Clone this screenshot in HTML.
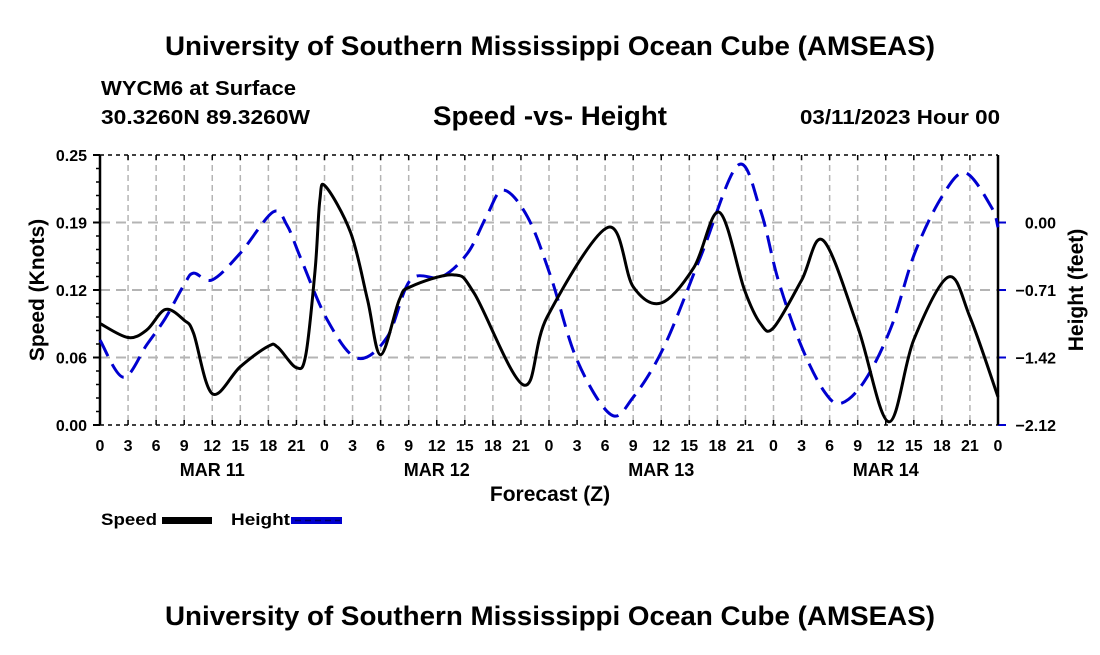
<!DOCTYPE html>
<html><head><meta charset="utf-8">
<style>
body{margin:0;background:#fff;}
svg text{font-family:"Liberation Sans",Arial,sans-serif;font-weight:bold;fill:#000;}
</style></head>
<body>
<svg id="chart" width="1100" height="650" viewBox="0 0 1100 650" xmlns="http://www.w3.org/2000/svg">
<rect width="1100" height="650" fill="#fff"/>
<text x="165" y="55" font-size="27" textLength="770" lengthAdjust="spacingAndGlyphs">University of Southern Mississippi Ocean Cube (AMSEAS)</text>
<text x="101" y="95" font-size="20" textLength="195" lengthAdjust="spacingAndGlyphs">WYCM6 at Surface</text>
<text x="101" y="124" font-size="20" textLength="209" lengthAdjust="spacingAndGlyphs">30.3260N  89.3260W</text>
<text x="433" y="125" font-size="27" textLength="234" lengthAdjust="spacingAndGlyphs">Speed -vs- Height</text>
<text x="800" y="124" font-size="20" textLength="200" lengthAdjust="spacingAndGlyphs">03/11/2023 Hour 00</text>
<g id="grid"></g>
<g id="axes"></g>
<g id="series"></g>
<text transform="translate(44,290) rotate(-90)" font-size="21" text-anchor="middle">Speed (Knots)</text>
<text transform="translate(1083,290) rotate(-90)" font-size="21" text-anchor="middle">Height (feet)</text>
<text x="550" y="501" font-size="21" text-anchor="middle">Forecast (Z)</text>
<g>
<text x="101" y="525" font-size="17" textLength="56" lengthAdjust="spacingAndGlyphs">Speed</text>
<rect x="162" y="517" width="50" height="7" fill="#000"/>
<text x="231" y="525" font-size="17" textLength="59" lengthAdjust="spacingAndGlyphs">Height</text>
<rect x="291" y="517" width="51" height="7" fill="#0000d0"/>
<line x1="295" y1="520.5" x2="340" y2="520.5" stroke="#000060" stroke-width="1.5" stroke-dasharray="6,4"/>
</g>
<text x="165" y="625" font-size="27" textLength="770" lengthAdjust="spacingAndGlyphs">University of Southern Mississippi Ocean Cube (AMSEAS)</text>
</svg>
<script>
const speedHours=[0,3,5,7,9,10,12,15,18,19,21,22,23,23.5,24.1,26.8,28.6,30,32,33.2,37.8,40,45.3,47.8,54.3,57,60,63.5,66.2,68.9,70.6,72,75,77.3,81,84.3,87,90.7,93,96];
const speedValues=[0.094,0.081,0.088,0.107,0.097,0.085,0.029,0.054,0.073,0.072,0.053,0.065,0.144,0.208,0.221,0.178,0.116,0.065,0.116,0.128,0.139,0.122,0.037,0.100,0.183,0.128,0.113,0.146,0.197,0.125,0.094,0.090,0.134,0.171,0.091,0.003,0.079,0.137,0.100,0.026];
const heightHours=[0,2.5,5,7,9,10,12,15,18.5,20,21.4,24.3,27.5,30.7,33.2,36.5,39.3,41.3,43.1,45.7,48.2,51,54.6,57,60.3,64.2,68.2,70.6,72.5,75,77.5,79.3,81.8,84.6,87.1,90,92.5,95.3,96];
const heightValues=[-1.23,-1.62,-1.28,-1.00,-0.65,-0.53,-0.60,-0.32,0.11,-0.03,-0.36,-1.02,-1.42,-1.20,-0.60,-0.57,-0.32,0.06,0.34,0.06,-0.57,-1.44,-2.01,-1.83,-1.30,-0.36,0.60,0.13,-0.60,-1.30,-1.78,-1.89,-1.65,-1.09,-0.32,0.27,0.52,0.16,-0.05];
const speedTicks=[0,0.0625,0.125,0.1875,0.25];
const speedTickLabels=["0.00","0.06","0.12","0.19","0.25"];
const heightTickLabels=["\u22122.12","\u22121.42","\u22120.71","0.00"];
const hourLabels=["0","3","6","9","12","15","18","21"];
const dayLabels=["MAR 11","MAR 12","MAR 13","MAR 14"];

const X0=100,X1=998,Y0=425,Y1=155,HMAX=96;
const HMIN=-2.12,HTOP=0.707;
const xs=h=>X0+h/HMAX*(X1-X0);
const ys=v=>Y0-v/0.25*(Y0-Y1);
const yh=v=>Y0-(v-HMIN)/(HTOP-HMIN)*(Y0-Y1);
const NS="http://www.w3.org/2000/svg";
function mk(tag,attrs,parent){const e=document.createElementNS(NS,tag);for(const k in attrs)e.setAttribute(k,attrs[k]);parent.appendChild(e);return e;}
const grid=document.getElementById('grid'),axes=document.getElementById('axes'),series=document.getElementById('series');

for(let h=0;h<=HMAX;h+=3){
  const x=xs(h);
  if(h>0&&h<HMAX){const l=mk('line',{x1:x,y1:Y1,x2:x,y2:Y0,stroke:'#b4b4b4','stroke-width':1.5,'stroke-dasharray':'6,4'},grid);
  
  }
  mk('line',{x1:x,y1:Y1,x2:x,y2:Y1+5,stroke:'#000','stroke-width':1.5},axes);
  mk('line',{x1:x,y1:Y0,x2:x,y2:Y0-5,stroke:'#000','stroke-width':1.5},axes);
  const t=mk('text',{x:x,y:451,'font-size':16,'text-anchor':'middle'},axes);
  t.textContent=hourLabels[(h/3)%8];
  
  
}
dayLabels.forEach((d,i)=>{const t=mk('text',{x:xs(i*24+12),y:476,'font-size':18,'text-anchor':'middle'},axes);t.textContent=d;
  
  });
speedTicks.forEach((v,i)=>{const y=ys(v);
  const l=mk('line',{x1:X0,y1:y,x2:X1,y2:y,stroke:(i==0||i==4)?'#000':'#b4b4b4','stroke-width':(i==0||i==4)?1.5:2,'stroke-dasharray':(i==0||i==4)?'4,4':'10,6'},grid);
  
  
  mk('line',{x1:X0-7,y1:y,x2:X0,y2:y,stroke:'#000','stroke-width':2},axes);
  const t=mk('text',{x:X0-13,y:y+6,'font-size':16,'text-anchor':'end'},axes);t.textContent=speedTickLabels[i];
  
  
});
for(let k=0;k<=20;k++){const y=Y0-k*(Y0-Y1)/20;mk('line',{x1:X0-4,y1:y,x2:X0,y2:y,stroke:'#000','stroke-width':1.5},axes);}
heightTickLabels.forEach((s,i)=>{const v=HMIN+i*(0-HMIN)/3;const y=yh(v);
  mk('line',{x1:X1,y1:y,x2:X1+8,y2:y,stroke:'#0000d0','stroke-width':2},axes);
  const t=mk('text',{x:1056,y:y+6,'font-size':16,'text-anchor':'end'},axes);t.textContent=s;
  
  
});
mk('line',{x1:X0,y1:Y1,x2:X0,y2:Y0,stroke:'#000','stroke-width':2.5},axes);
mk('line',{x1:X1,y1:Y1,x2:X1,y2:Y0,stroke:'#000','stroke-width':2.5},axes);

function smooth(hs,vs,yf){
  const p=hs.map((h,i)=>[xs(h),yf(vs[i])]);
  let d='M'+p[0][0]+','+p[0][1];
  for(let i=0;i<p.length-1;i++){
    const a=p[Math.max(0,i-1)],b=p[i],c=p[i+1],e=p[Math.min(p.length-1,i+2)];
    const c1=[b[0]+(c[0]-a[0])/6,b[1]+(c[1]-a[1])/6],c2=[c[0]-(e[0]-b[0])/6,c[1]-(e[1]-b[1])/6];
    d+=' C'+c1[0]+','+c1[1]+' '+c2[0]+','+c2[1]+' '+c[0]+','+c[1];
  }
  return d;
}
const hp=mk('path',{d:smooth(heightHours,heightValues,yh),fill:'none',stroke:'#0000d0','stroke-width':3,'stroke-dasharray':'18,9'},series);


const sp=mk('path',{d:smooth(speedHours,speedValues,ys),fill:'none',stroke:'#000','stroke-width':3,'stroke-linejoin':'round'},series);


</script>
</body></html>
